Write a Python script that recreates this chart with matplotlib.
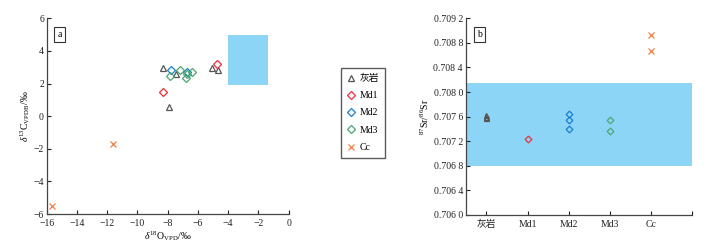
import matplotlib
matplotlib.use("Agg")
import matplotlib.pyplot as plt
from matplotlib.patches import Rectangle

plt.rcParams['font.family'] = ['Liberation Serif', 'Noto Sans CJK SC', 'DejaVu Sans']
plt.rcParams['mathtext.fontset'] = 'custom'
plt.rcParams['mathtext.rm'] = 'Liberation Serif'
plt.rcParams['mathtext.it'] = 'Liberation Serif:italic'

# ---- Panel a data (d18O, d13C) ----
ls_o = [-8.29, -7.91, -7.45, -5.07, -4.69]
ls_c = [2.98, 0.58, 2.57, 2.94, 2.85]
md1_o = [-8.29, -4.76]
md1_c = [1.50, 3.18]
md2_o = [-7.78, -6.74]
md2_c = [2.82, 2.73]
md3_o = [-7.85, -7.19, -6.79, -6.74, -6.41]
md3_c = [2.49, 2.82, 2.33, 2.57, 2.69]
cc_o = [-15.63, -11.62]
cc_c = [-5.49, -1.71]
box_o = [-4.0, -1.4]
box_c = [1.9, 5.0]

# ---- Panel b data (87Sr/86Sr) ----
categories = ['灰岩', 'Md1', 'Md2', 'Md3', 'Cc']
sr_ls = [0.70763, 0.70758, 0.70760]
sr_md1 = [0.70723]
sr_md2 = [0.70765, 0.70754, 0.70740]
sr_md3 = [0.70755, 0.70737]
sr_cc = [0.70893, 0.70867]
sr_band = [0.70679, 0.70815]
sr_ticks = [0.7060, 0.7064, 0.7068, 0.7072, 0.7076, 0.7080, 0.7084, 0.7088, 0.7092]

c_ls = '#555555'
c_md1 = '#e8303a'
c_md2 = '#1a7fd0'
c_md3 = '#4aa870'
c_cc = '#f07f45'
c_fill = '#8dd5f6'

fig = plt.figure(figsize=(7.1, 2.47), dpi=100)
ax = fig.add_axes([0.0658, 0.1336, 0.3408, 0.7925])
bx = fig.add_axes([0.656, 0.1296, 0.319, 0.7965])

ms = 4.2
kw = dict(linestyle='none', markerfacecolor='none', markersize=ms, markeredgewidth=0.9)

ax.add_patch(Rectangle((box_o[0], box_c[0]), box_o[1] - box_o[0], box_c[1] - box_c[0],
                       facecolor=c_fill, edgecolor='none', zorder=1))
h1, = ax.plot(ls_o, ls_c, marker='^', color=c_ls, **kw)
h2, = ax.plot(md1_o, md1_c, marker='D', color=c_md1, **dict(kw, markersize=3.6))
h3, = ax.plot(md2_o, md2_c, marker='D', color=c_md2, **dict(kw, markersize=3.6))
h4, = ax.plot(md3_o, md3_c, marker='D', color=c_md3, **dict(kw, markersize=3.6))
h5, = ax.plot(cc_o, cc_c, marker='x', color=c_cc, linestyle='none', markersize=4.5, markeredgewidth=0.9)

ax.set_xlim(-16, 0)
ax.set_ylim(-6, 6)
ax.set_xticks(range(-16, 1, 2))
ax.set_yticks(range(-6, 7, 2))
ax.set_xlabel(r'$\delta^{18}\mathrm{O}_{\mathrm{VPD}}$/‰', fontsize=7, labelpad=1)
ax.set_ylabel(r'$\delta^{13}\mathrm{C}_{\mathrm{VPDB}}$/‰', fontsize=7, labelpad=1)
ax.text(0.045, 0.94, 'a', transform=ax.transAxes, fontsize=7, va='top', ha='left',
        bbox=dict(boxstyle='square,pad=0.35', facecolor='white', edgecolor='#333333', linewidth=0.8))

fig.legend([h1, h2, h3, h4, h5], categories, loc='upper left',
           bbox_to_anchor=(336 / 710, 1 - 63 / 247), fontsize=7, frameon=True,
           fancybox=False, edgecolor='#333333', handlelength=0.8, handletextpad=0.5,
           labelspacing=0.85, borderpad=0.6)

# Panel b
bx.axhspan(sr_band[0], sr_band[1], facecolor=c_fill, edgecolor='none', zorder=1)
bx.plot([0] * len(sr_ls), sr_ls, marker='^', color=c_ls, **dict(kw, markersize=3.6))
bx.plot([1] * len(sr_md1), sr_md1, marker='D', color=c_md1, **dict(kw, markersize=3.4))
bx.plot([2] * len(sr_md2), sr_md2, marker='D', color=c_md2, **dict(kw, markersize=3.4))
bx.plot([3] * len(sr_md3), sr_md3, marker='D', color=c_md3, **dict(kw, markersize=3.4))
bx.plot([4] * len(sr_cc), sr_cc, marker='x', color=c_cc, linestyle='none', markersize=4.5, markeredgewidth=0.9)

bx.set_xlim(-0.5, 5.0)
bx.set_ylim(0.7060, 0.7092)
bx.set_xticks(list(range(len(categories))) + [5.0])
bx.set_xticklabels(categories + [''])
bx.set_yticks(sr_ticks)
labels = []
for v in sr_ticks:
    s = f'{v:.4f}'
    labels.append(s[:-1] + ' ' + s[-1])
bx.set_yticklabels(labels)
bx.set_ylabel(r'$^{87}\mathrm{Sr}/^{86}\mathrm{Sr}$', fontsize=7, labelpad=2)
bx.text(0.05, 0.94, 'b', transform=bx.transAxes, fontsize=7, va='top', ha='left',
        bbox=dict(boxstyle='square,pad=0.35', facecolor='white', edgecolor='#333333', linewidth=0.8))

for a in (ax, bx):
    a.spines['top'].set_visible(False)
    a.spines['right'].set_visible(False)
    for s in ('left', 'bottom'):
        a.spines[s].set_color('#444444')
        a.spines[s].set_linewidth(0.9)
    a.tick_params(direction='in', length=3, width=0.8, labelsize=7, colors='#222222', pad=2)
ax.tick_params(axis='x', pad=3.5)
bx.tick_params(axis='x', pad=3.5)

fig.savefig('out.png', dpi=100)
